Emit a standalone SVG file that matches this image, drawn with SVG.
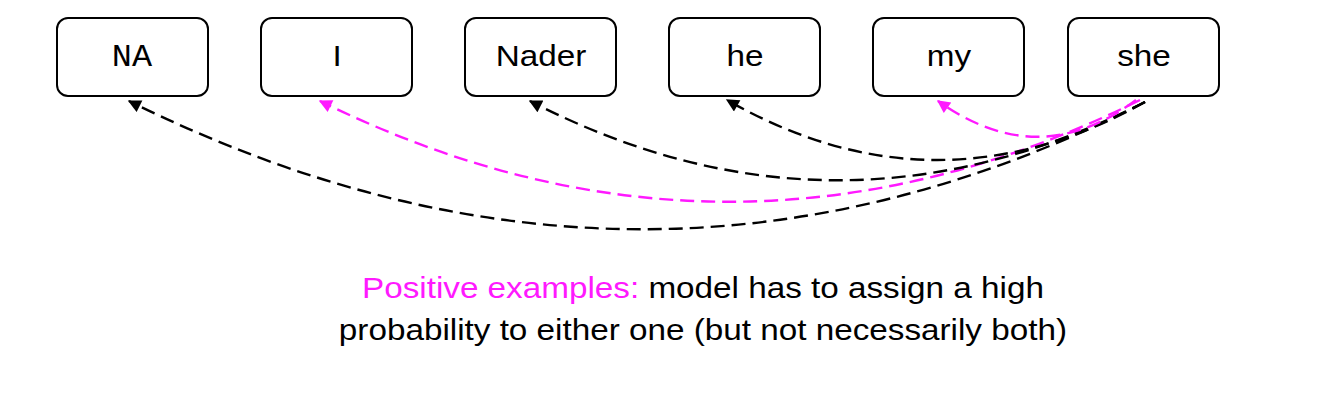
<svg xmlns="http://www.w3.org/2000/svg" width="1326" height="400" viewBox="0 0 1326 400">
<defs>
<style>
.box{fill:#fff;stroke:#000;stroke-width:2}
.lbl{font-family:"Liberation Sans",Arial,sans-serif;font-size:29px;text-anchor:middle;fill:#000}
.mono{font-family:"Liberation Mono","Courier New",monospace;font-size:31px;text-anchor:middle;fill:#000}
.e{fill:none;stroke-width:2.4;stroke-dasharray:14,7}
.k{stroke:#000}
.m{stroke:#ff19ff}
.cap{font-family:"Liberation Sans",Arial,sans-serif;font-size:29px;text-anchor:middle;fill:#000}
</style>
<marker id="ak" viewBox="0 0 10 10" refX="9" refY="5" markerWidth="16" markerHeight="13" markerUnits="userSpaceOnUse" orient="auto"><path d="M0,0L10,5L0,10z" fill="#000"/></marker>
<marker id="am" viewBox="0 0 10 10" refX="9" refY="5" markerWidth="16" markerHeight="13" markerUnits="userSpaceOnUse" orient="auto"><path d="M0,0L10,5L0,10z" fill="#ff19ff"/></marker>
</defs>
<rect width="1326" height="400" fill="#fff"/>
<g id="NA"><rect class="box" x="57" y="18" width="151" height="78" rx="11"/><text class="mono" x="132" y="66" transform="matrix(1.08,0,0,1,-10.6,0)">NA</text></g>
<g id="I"><rect class="box" x="261" y="18" width="151" height="78" rx="11"/><text class="lbl" x="337" y="66" transform="matrix(1.147,0,0,1,-49.5,0)">I</text></g>
<g id="Nader"><rect class="box" x="465" y="18" width="151" height="78" rx="11"/><text class="lbl" x="541" y="66" transform="matrix(1.147,0,0,1,-79.5,0)">Nader</text></g>
<g id="he"><rect class="box" x="669" y="18" width="151" height="78" rx="11"/><text class="lbl" x="745" y="66" transform="matrix(1.147,0,0,1,-109.5,0)">he</text></g>
<g id="my"><rect class="box" x="873" y="18" width="151" height="78" rx="11"/><text class="lbl" x="949" y="66" transform="matrix(1.147,0,0,1,-139.5,0)">my</text></g>
<g id="she"><rect class="box" x="1068" y="18" width="151" height="78" rx="11"/><text class="lbl" x="1144" y="66" transform="matrix(1.147,0,0,1,-168.2,0)">she</text></g>
<g id="edges">
<path class="e k" d="M1145,102 Q645,357 129,101" marker-end="url(#ak)"/>
<path class="e m" d="M1140,100 Q730,303 320,101" marker-end="url(#am)"/>
<path class="e k" d="M1145,102 Q836,259 530,101" marker-end="url(#ak)"/>
<path class="e k" d="M1145,102 Q935,219 727,100" marker-end="url(#ak)"/>
<path class="e m" d="M1136,100 Q1039,173 938,101" marker-end="url(#am)"/>
</g>
<g id="caption" transform="matrix(1.147,0,0,1,-103.4,0)">
<text class="cap" x="703" y="298"><tspan fill="#ff19ff">Positive examples:</tspan> model has to assign a high</text>
<text class="cap" x="703" y="340">probability to either one (but not necessarily both)</text>
</g>
</svg>
